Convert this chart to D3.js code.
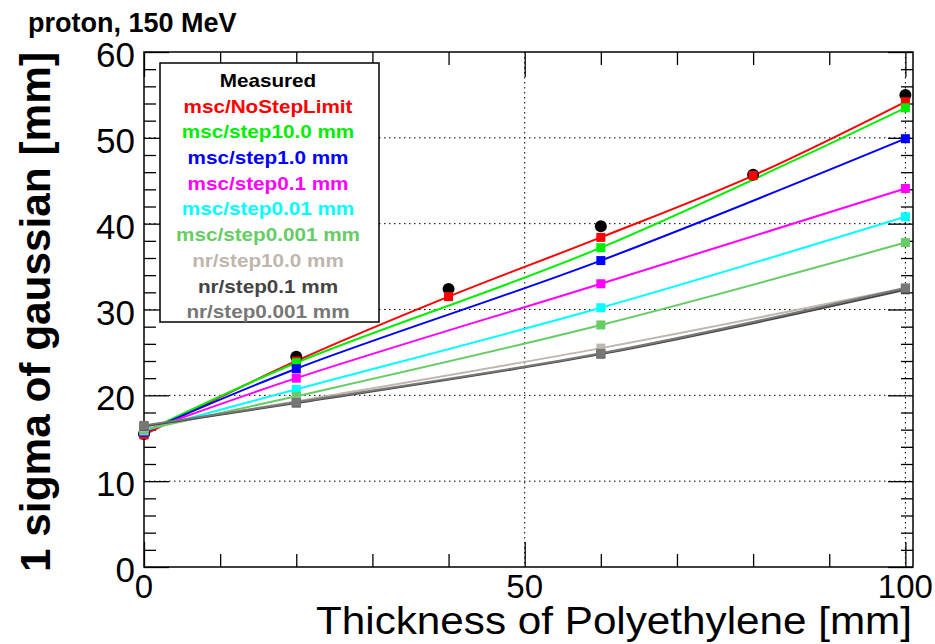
<!DOCTYPE html>
<html>
<head>
<meta charset="utf-8">
<script src="https://cdn.jsdelivr.net/npm/d3@7"></script>
<style>
  body { margin: 0; background: #fff; }
  text { font-family: "Liberation Sans", Arial, sans-serif; }
</style>
</head>
<body>
<div id="chart"></div>
<script>
// thickness values
const measX = [0, 20, 40, 60, 80, 100];
const measured = [15.5, 24.5, 32.4, 39.7, 45.7, 55.0];

const simX = [0, 20, 60, 100];
const redX = [0, 20, 40, 60, 80, 100];
const mscNoStep = [15.4, 24.0, 31.5, 38.4, 45.6, 54.2];
const mscStep10 = [15.7, 23.8, 37.2, 53.5];
const mscStep1 = [15.7, 23.1, 35.7, 49.9];
const mscStep01 = [15.8, 22.0, 33.0, 44.1];
const mscStep001 = [15.9, 20.7, 30.2, 40.8];
const mscStep0001 = [16.0, 19.9, 28.2, 37.8];
const nrStep10 = [16.3, 19.3, 25.5, 32.5];
const nrStep01 = [16.4, 19.1, 24.8, 32.3];
const nrStep0001 = [16.5, 19.2, 24.9, 32.5];

const series = [
  { name: "msc/NoStepLimit", xs: redX, ys: mscNoStep, color: "#ff0000" },
  { name: "msc/step10.0 mm", xs: simX, ys: mscStep10, color: "#00ee00" },
  { name: "msc/step1.0 mm", xs: simX, ys: mscStep1, color: "#0000ff" },
  { name: "msc/step0.1 mm", xs: simX, ys: mscStep01, color: "#ff00ff" },
  { name: "msc/step0.01 mm", xs: simX, ys: mscStep001, color: "#00ffff" },
  { name: "msc/step0.001 mm", xs: simX, ys: mscStep0001, color: "#66cc66" },
  { name: "nr/step10.0 mm", xs: simX, ys: nrStep10, color: "#bfb6ae" },
  { name: "nr/step0.1 mm", xs: simX, ys: nrStep01, color: "#444444" },
  { name: "nr/step0.001 mm", xs: simX, ys: nrStep0001, color: "#777777" }
];

const W = 935, H = 644;
const L = 144, R = 913, T = 52, B = 567;

const svg = d3.select("#chart").append("svg")
  .attr("width", W).attr("height", H);

const x = d3.scaleLinear().domain([0, 101]).range([L, R]);
const y = d3.scaleLinear().domain([0, 60]).range([B, T]);

// grid
const grid = svg.append("g").attr("stroke", "#000").attr("stroke-width", 1)
  .attr("stroke-dasharray", "1.5,3.5");
[50, 100].forEach(v => grid.append("line")
  .attr("x1", x(v)).attr("x2", x(v)).attr("y1", T).attr("y2", B));
[10, 20, 30, 40, 50].forEach(v => grid.append("line")
  .attr("x1", L).attr("x2", R).attr("y1", y(v)).attr("y2", y(v)));

// ticks
function ticks(axis, vals, size, pos) {
  const g = svg.append("g").attr("transform", pos)
    .call(axis.tickValues(vals).tickSize(-size).tickFormat(""));
  g.select(".domain").remove();
  g.selectAll("line").attr("stroke", "#000").attr("stroke-width", 1.3);
}
const xMinor = d3.range(10, 100, 10).filter(v => v !== 50);
const yMinor = d3.range(2, 60, 2).filter(v => v % 10 !== 0);
ticks(d3.axisBottom(x), xMinor, 13, `translate(0,${B})`);
ticks(d3.axisBottom(x), [0, 50, 100], 25, `translate(0,${B})`);
ticks(d3.axisTop(x), xMinor, 13, `translate(0,${T})`);
ticks(d3.axisTop(x), [0, 50, 100], 25, `translate(0,${T})`);
ticks(d3.axisLeft(y), yMinor, 12, `translate(${L},0)`);
ticks(d3.axisLeft(y), d3.range(0, 61, 10), 25, `translate(${L},0)`);
ticks(d3.axisRight(y), yMinor, 12, `translate(${R},0)`);
ticks(d3.axisRight(y), d3.range(0, 61, 10), 25, `translate(${R},0)`);

// frame
svg.append("rect").attr("x", L).attr("y", T)
  .attr("width", R - L).attr("height", B - T)
  .attr("fill", "none").attr("stroke", "#000").attr("stroke-width", 1.5);

// tick labels
[0, 50, 100].forEach(v => svg.append("text")
  .attr("x", x(v)).attr("y", 598)
  .attr("text-anchor", "middle")
  .style("font-size", "33px")
  .text(v));
d3.range(0, 61, 10).forEach(v => svg.append("text")
  .attr("x", 135).attr("y", y(v) + 15)
  .attr("text-anchor", "end")
  .style("font-size", "35px")
  .text(v));

// axis titles
svg.append("text")
  .attr("x", 912).attr("y", 634)
  .attr("text-anchor", "end")
  .style("font-size", "38px")
  .attr("textLength", 596).attr("lengthAdjust", "spacingAndGlyphs")
  .text("Thickness of Polyethylene [mm]");

svg.append("text")
  .attr("transform", "translate(50,52) rotate(-90)")
  .attr("text-anchor", "end")
  .style("font-size", "43px").style("font-weight", "bold")
  .attr("textLength", 520).attr("lengthAdjust", "spacingAndGlyphs")
  .text("1 sigma of gaussian [mm]");

svg.append("text")
  .attr("x", 28).attr("y", 32)
  .style("font-size", "27px").style("font-weight", "bold")
  .text("proton, 150 MeV");

// curves
const line = d3.line().curve(d3.curveCatmullRom.alpha(0.5))
  .x(d => x(d[0])).y(d => y(d[1]));
const plot = svg.append("g");
series.forEach(s => {
  plot.append("path")
    .attr("d", line(s.xs.map((v, i) => [v, s.ys[i]])))
    .attr("fill", "none").attr("stroke", s.color).attr("stroke-width", 2);
});

// measured points
plot.selectAll(".meas").data(measX).enter().append("circle")
  .attr("cx", d => x(d)).attr("cy", (d, i) => y(measured[i]))
  .attr("r", 6).attr("fill", "#000");

// simulation markers
series.forEach(s => {
  plot.selectAll(null).data(s.xs).enter().append("rect")
    .attr("x", d => x(d) - 4.5).attr("y", (d, i) => y(s.ys[i]) - 4.5)
    .attr("width", 9).attr("height", 9).attr("fill", s.color);
});

// legend
const lg = svg.append("g");
lg.append("rect").attr("x", 160).attr("y", 63).attr("width", 219).attr("height", 259)
  .attr("fill", "#fff").attr("stroke", "#000").attr("stroke-width", 1.5);
const legendItems = [{ name: "Measured", color: "#000" }].concat(series);
legendItems.forEach((s, i) => {
  lg.append("text")
    .attr("x", 268).attr("y", 87 + i * 25.7)
    .attr("text-anchor", "middle")
    .style("font-size", "18px").style("font-weight", "bold")
    .attr("transform", `translate(268,0) scale(1.15,1) translate(-268,0)`)
    .attr("fill", s.color)
    .text(s.name);
});
</script>
</body>
</html>
